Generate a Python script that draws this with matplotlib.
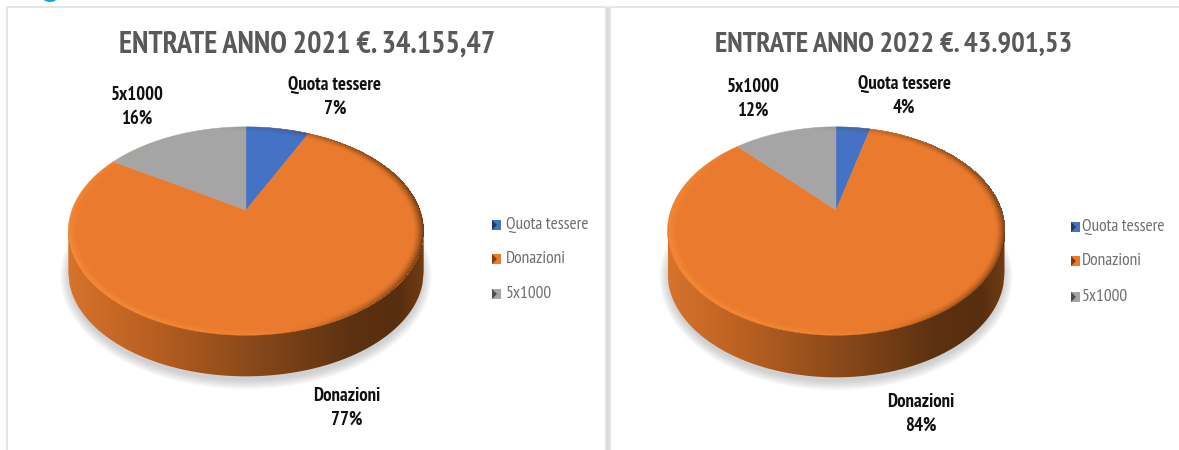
import numpy as np
import matplotlib
matplotlib.use("Agg")
from matplotlib import pyplot as plt
from matplotlib import font_manager as fm
from matplotlib.patches import Polygon, Rectangle, Ellipse

categories = ["Quota tessere", "Donazioni", "5x1000"]
values_2021 = [7, 77, 16]
values_2022 = [4, 84, 12]
title_2021 = "ENTRATE ANNO 2021 €. 34.155,47"
title_2022 = "ENTRATE ANNO 2022 €. 43.901,53"
colors = ["#4472c4", "#ea7b2e", "#a5a5a5"]
legend_dark = ["#203864", "#843c0c", "#4d4d4d"]

names = {f.name for f in fm.fontManager.ttflist}
FONT = "PT Sans Narrow" if "PT Sans Narrow" in names else "Lato"
W, H = 1179, 450
K = 0.202  # perspective of the pie top


def project(theta, cx, cy, sx, sy, r=1.0):
    """circle angle (clockwise from top) to pixel position, with perspective"""
    x = r * np.sin(theta)
    y = r * np.cos(theta)
    d = 1 + K * y
    return cx + sx * x / d, cy - sy * y / d


def draw_pie(ax, values, cx, cy, sx, sy, depth):
    t = np.linspace(0, 2 * np.pi, 721)
    ex, ey = project(t, cx, cy, sx, sy)
    left, right = ex.min(), ex.max()
    top, bottom = ey.min(), ey.max()

    # soft shadow under the body
    for i in range(10):
        ax.add_patch(Ellipse(((left + right) / 2, (top + bottom) / 2 + depth + 4),
                             right - left + 16 - i * 2, bottom - top + 18 - i * 2,
                             fc="#707070", ec="none", alpha=0.035, zorder=1))

    # side wall with left to right shading
    sx_pts = np.linspace(left, right, 300)
    mid = (top + bottom) / 2
    half = (bottom - top) / 2
    low = mid + half * np.sqrt(np.clip(1 - ((sx_pts - (left + right) / 2) / ((right - left) / 2)) ** 2, 0, 1))
    side = Polygon(np.vstack([np.c_[sx_pts, mid + 0 * sx_pts], np.c_[sx_pts[::-1], low[::-1] + depth]]),
                   closed=True, fc="none", ec="none", zorder=2)
    ax.add_patch(side)
    stops = np.array([[214, 115, 44], [190, 98, 34], [140, 74, 26], [92, 49, 17], [88, 46, 16], [112, 60, 20]]) / 255
    pos = np.array([0, 0.2, 0.5, 0.8, 0.93, 1])
    u = np.linspace(0, 1, 300)
    grad = np.stack([np.interp(u, pos, stops[:, c]) for c in range(3)], axis=-1)[None, :, :]
    im = ax.imshow(grad, extent=(left, right, H, 0), aspect="auto", zorder=2, interpolation="bilinear")
    im.set_clip_path(side)

    # top face slices
    edges = np.cumsum([0] + values) / sum(values) * 2 * np.pi
    for i, col in enumerate(colors):
        a = np.linspace(edges[i], edges[i + 1], 240)
        px, py = project(a, cx, cy, sx, sy)
        pts = np.vstack([[cx, cy], np.c_[px, py]])
        ax.add_patch(Polygon(pts, closed=True, fc=col, ec=col, lw=0.3, zorder=3))

    # bevel along the rim of the top face
    xx, yy = np.meshgrid(np.arange(left, right, 1.0), np.arange(top, bottom, 1.0))
    nx = (xx - (left + right) / 2) / ((right - left) / 2)
    ny = (yy - mid) / half
    rr = np.hypot(nx, ny)
    rim = np.clip((rr - 0.94) / 0.06, 0, 1) ** 1.5
    ang = np.arctan2(nx, -ny)
    light = np.clip(-np.sin(ang) * 0.75 - np.cos(ang) * 0.45, 0, 1)
    dark = np.clip(np.sin(ang) * 1.0 + np.cos(ang) * 0.15, 0, 1)
    rgba = np.zeros(xx.shape + (4,))
    mix = dark / (dark + light + 1e-6)
    rgba[..., 0] = (1 - mix) * 1.0 + mix * 0.30
    rgba[..., 1] = (1 - mix) * 0.60 + mix * 0.15
    rgba[..., 2] = (1 - mix) * 0.27 + mix * 0.04
    rgba[..., 3] = rim * np.maximum(light * 0.6, dark * 0.8) * (rr <= 1.0)
    ax.imshow(rgba, extent=(left, right, bottom, top), aspect="auto", zorder=4, interpolation="bilinear")


def draw_legend(ax, x, ys, size, gap):
    for name, col, dk, y in zip(categories, colors, legend_dark, ys):
        ax.add_patch(Rectangle((x, y - 5), 9, 10, fc=col, ec="none", zorder=3))
        ax.add_patch(Polygon([[x, y - 5], [x + 5, y], [x, y + 5]], closed=True, fc=dk, ec="none", zorder=4))
        ax.text(x + gap, y, name, fontsize=size, color="#6e6e6e", family=FONT, va="center", ha="left")


fig = plt.figure(figsize=(W / 100, H / 100), dpi=100)
ax = fig.add_axes([0, 0, 1, 1])
ax.set_xlim(0, W)
ax.set_ylim(H, 0)
ax.axis("off")

# panels
ax.add_patch(Rectangle((7, 7), 599, 450, fc="white", ec="#e2e2e2", lw=1.2, zorder=0))
ax.add_patch(Rectangle((606, 7), 4, 450, fc="#dcdcdc", ec="none", zorder=0))
ax.add_patch(Rectangle((610, 7), 575, 450, fc="white", ec="#e2e2e2", lw=1.2, zorder=0))
ax.add_patch(Ellipse((50, -2), 14, 8, fc="#19a3e8", ec="none", zorder=1))

draw_pie(ax, values_2021, 246, 210, 174, 100, 41)
draw_pie(ax, values_2022, 836, 210, 165, 100, 42)

ax.text(307, 45, title_2021, fontsize=21.7, fontweight="bold", color="#595959", family=FONT, ha="center", va="center")
ax.text(894, 45, title_2022, fontsize=20.6, fontweight="bold", color="#595959", family=FONT, ha="center", va="center")

label_pos_2021 = [(335, 97), (347, 408), (137, 107)]
label_pos_2022 = [(904, 96), (921, 414), (753, 99)]
for vals, label_pos in ((values_2021, label_pos_2021), (values_2022, label_pos_2022)):
    for name, v, (x, y) in zip(categories, vals, label_pos):
        ax.text(x, y, f"{name}\n{v}%", fontsize=13.5, fontweight="bold", color="#111111", family=FONT,
                ha="center", va="center", linespacing=1.45)

draw_legend(ax, 492, [225, 259, 294], 12.5, 14)
draw_legend(ax, 1071, [227, 261, 297], 12.5, 11)

fig.savefig("out.png", dpi=100)
